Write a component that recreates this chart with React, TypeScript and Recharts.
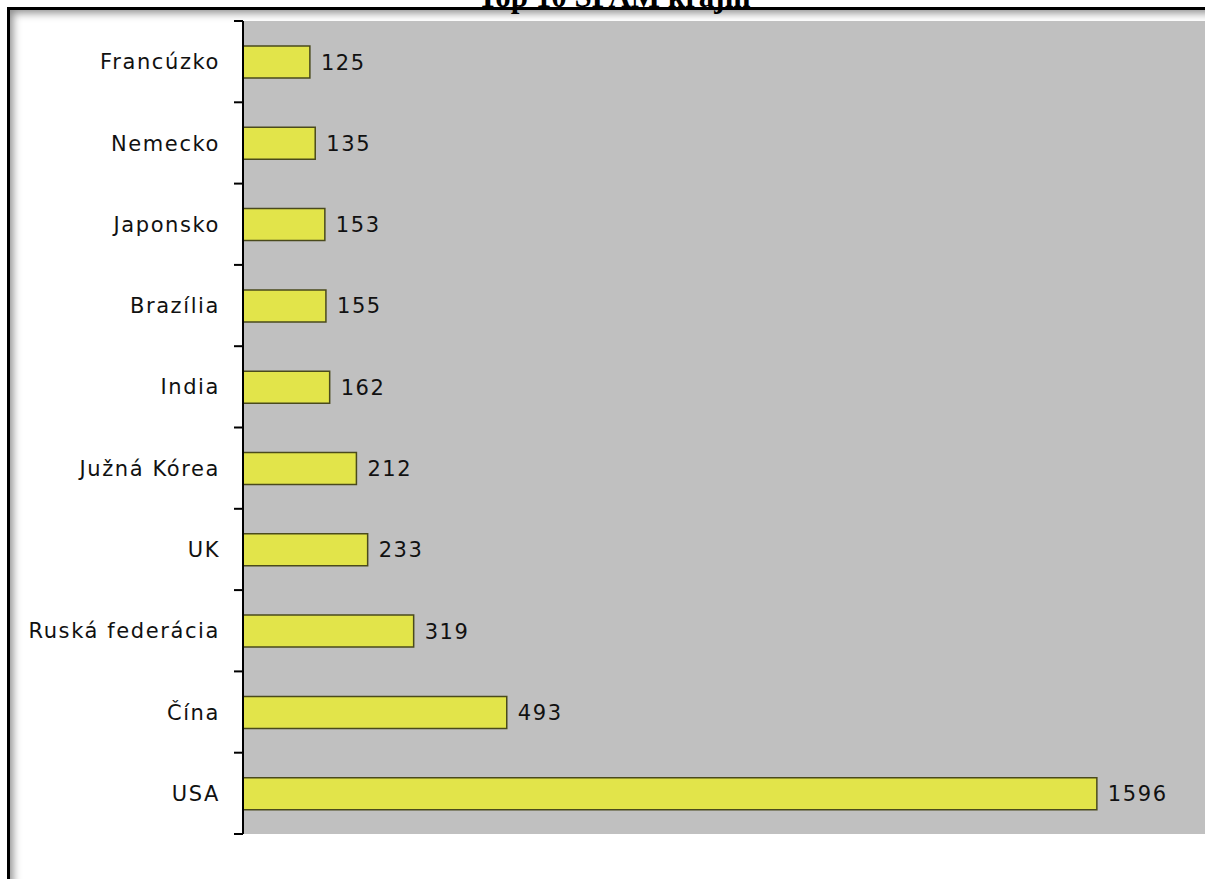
import React from "react";
import { BarChart, Bar, XAxis, YAxis, CartesianGrid, LabelList } from "recharts";

const countries = ["Francúzko", "Nemecko", "Japonsko", "Brazília", "India", "Južná Kórea", "UK", "Ruská federácia", "Čína", "USA"];
const spamCounts = [125, 135, 153, 155, 162, 212, 233, 319, 493, 1596];
const xDomainMax = 1800;
const title = "Top 10 SPAM krajín";

const data = countries.map((c, i) => ({ country: c, value: spamCounts[i] }));

const CHART_W = 1206;
const CHART_H = 850;
const M_TOP = 21;
const M_BOTTOM = 16;
const Y_W = 243;
const BAND = (CHART_H - M_TOP - M_BOTTOM) / countries.length;

const FONT = "'DejaVu Sans', Verdana, sans-serif";

const CategoryTick = (props: any) => {
  const { x, y, payload, index } = props;
  const last = index === countries.length - 1;
  return (
    <g>
      <line x1={x - 9} x2={x} y1={y - BAND / 2} y2={y - BAND / 2} stroke="#000" strokeWidth={2} />
      {last && <line x1={x - 9} x2={x} y1={y + BAND / 2} y2={y + BAND / 2} stroke="#000" strokeWidth={2} />}
      <text x={x - 23} y={y} dy="0.36em" textAnchor="end" fontFamily={FONT} fontSize={21} letterSpacing={1.6} fill="#111">
        {payload.value}
      </text>
    </g>
  );
};

const ValueLabel = (props: any) => {
  const { x, y, width, height, value } = props;
  return (
    <text x={x + width + 11} y={y + height / 2} dy="0.36em" textAnchor="start" fontFamily={FONT} fontSize={21} letterSpacing={1.6} fill="#111">
      {value}
    </text>
  );
};

export default function App() {
  return (
    <div style={{ position: "fixed", left: 0, top: 0, width: 1205, height: 879, overflow: "hidden", background: "#fff" }}>
      <div
        style={{
          position: "absolute",
          left: 7,
          top: 7,
          width: 1400,
          height: 1000,
          border: "3px solid #000",
          boxShadow: "inset 3px 3px 9px rgba(0,0,0,0.45)",
          boxSizing: "border-box",
        }}
      />
      <div style={{ position: "absolute", left: 0, top: 0 }}>
        <BarChart
          width={CHART_W}
          height={CHART_H}
          data={data}
          layout="vertical"
          margin={{ top: M_TOP, right: 0, bottom: M_BOTTOM, left: 0 }}
          barCategoryGap={0}
        >
          <CartesianGrid fill="#c0c0c0" stroke="none" horizontal={false} vertical={false} />
          <XAxis type="number" domain={[0, xDomainMax]} orientation="bottom" height={0} tick={false} tickLine={false} axisLine={{ stroke: "#8a8a8a", strokeWidth: 2 }} />
          <XAxis xAxisId="top" type="number" domain={[0, xDomainMax]} orientation="top" height={0} tick={false} tickLine={false} axisLine={{ stroke: "#9a9a9a", strokeWidth: 1 }} />
          <YAxis
            type="category"
            dataKey="country"
            width={Y_W}
            interval={0}
            tickLine={false}
            tickSize={0}
            tickMargin={0}
            axisLine={{ stroke: "#000", strokeWidth: 2 }}
            tick={<CategoryTick />}
          />
          <Bar dataKey="value" barSize={32} fill="#e2e44a" stroke="#4a4a1c" strokeWidth={1.5} isAnimationActive={false}>
            <LabelList dataKey="value" content={<ValueLabel />} />
          </Bar>
        </BarChart>
      </div>
      <div
        style={{
          position: "absolute",
          left: 0,
          width: 1228,
          top: -18,
          textAlign: "center",
          fontFamily: "'Liberation Serif', 'Times New Roman', serif",
          fontWeight: "bold",
          fontSize: 31,
          lineHeight: "30px",
          color: "#000",
          whiteSpace: "nowrap",
        }}
      >
        {title}
      </div>
    </div>
  );
}
